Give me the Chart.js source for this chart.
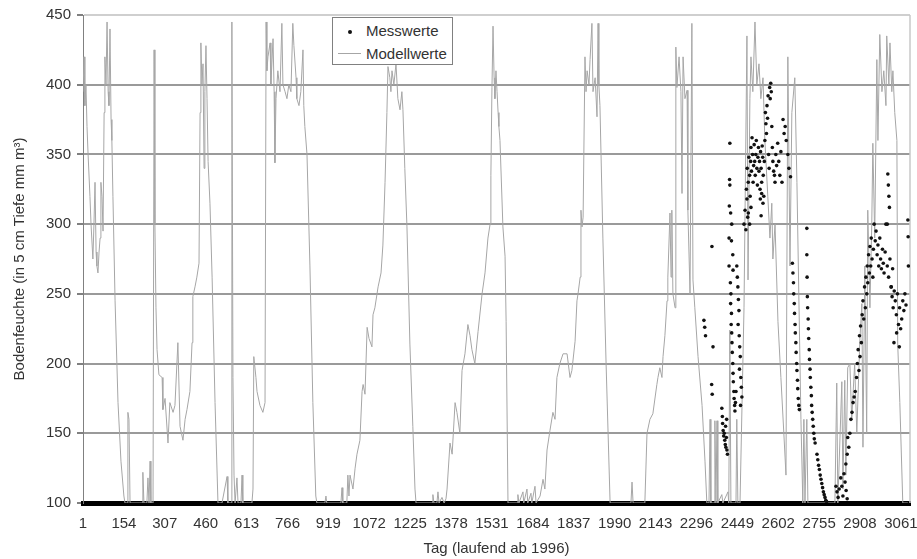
<!DOCTYPE html>
<html>
<head>
<meta charset="utf-8">
<script src="https://cdn.jsdelivr.net/npm/chart.js@4/dist/chart.umd.min.js"></script>
<style>
  html, body { margin: 0; padding: 0; background: #fff; }
  #wrap { position: relative; width: 917px; height: 559px; }
  #legend {
    position: absolute; left: 332px; top: 17px; width: 119px; height: 46px;
    border: 1px solid #808080; background: #fff;
    font: 15px "Liberation Sans", Arial, sans-serif; color: #333;
  }
  #legend .txt { position: absolute; left: 33px; line-height: 18px; white-space: nowrap; }
  #legend .dot { position: absolute; left: 15px; top: 12px; width: 4px; height: 4px; border-radius: 50%; background: #111; }
  #legend .ln { position: absolute; left: 5px; top: 35px; width: 23px; height: 1px; background: #a6a6a6; }
</style>
</head>
<body>
<div id="wrap">
  <canvas id="chart" width="917" height="559"></canvas>
  <div id="legend">
    <span class="dot"></span><span class="txt" style="top:4px">Messwerte</span>
    <span class="ln"></span><span class="txt" style="top:27px">Modellwerte</span>
  </div>
</div>
<script>
// Bodenfeuchte: Mess- und Modellwerte

const xTicks = [1, 154, 307, 460, 613, 766, 919, 1072, 1225, 1378, 1531, 1684, 1837, 1990, 2143, 2296, 2449, 2602, 2755, 2908, 3061];
const yTicks = [100, 150, 200, 250, 300, 350, 400, 450];

// [Tag, Wert]
const modellwerte = [
  [1,395],[5,420],[8,385],[12,400],[16,370],[20,350],[27,320],[31,300],[38,275],[42,300],[46,330],[50,280],[53,270],[57,265],[61,280],[65,290],[68,330],[72,320],[76,295],[80,380],[83,420],[87,400],[91,445],[95,395],[98,385],[102,440],[106,375],[109,360],[113,320],[121,245],[132,172],[143,130],[154,105],[158,100],[166,100],[169,165],[173,160],[177,100],[214,100],[222,100],[225,122],[229,100],[240,100],[244,118],[248,100],[252,130],[255,100],[263,100],
  [267,425],[270,300],[274,240],[278,210],[285,192],[297,190],[300,167],[308,175],[319,143],[326,172],[338,165],[345,170],[356,215],[364,155],[375,145],[383,160],[390,167],[401,180],[409,215],[412,248],[420,255],[427,262],[435,272],[439,380],[442,430],[446,400],[450,415],[454,340],[457,395],[461,428],[465,390],[469,345],[476,315],[484,262],[495,172],[506,100],[521,100],[540,119],[543,100],[555,100],
  [558,445],[562,190],[566,120],[570,100],[577,118],[581,100],[592,100],[596,120],[599,100],[633,100],[637,110],[640,205],[648,190],[652,180],[663,170],[674,165],[682,172],[686,445],[689,410],[693,420],[701,430],[704,400],[712,433],[716,395],[719,344],[723,390],[730,410],[738,395],[745,444],[749,400],[757,395],[764,390],[771,400],[779,395],[786,444],[790,428],[798,405],[801,390],[809,385],[816,395],[824,425],[827,385],[831,370],[839,350],[850,270],[861,172],[872,105],[876,100],
  [906,100],[910,105],[913,100],[966,100],[970,111],[973,100],[988,100],[992,120],[996,105],[1000,120],[1011,110],[1019,125],[1026,135],[1037,145],[1045,180],[1049,185],[1056,178],[1064,226],[1071,218],[1082,212],[1086,235],[1093,240],[1105,255],[1116,265],[1123,285],[1131,330],[1138,380],[1142,413],[1149,405],[1153,395],[1157,410],[1164,400],[1172,415],[1179,390],[1187,382],[1194,395],[1198,382],[1205,340],[1213,298],[1224,214],[1235,155],[1243,110],[1247,100],
  [1307,100],[1310,106],[1314,100],[1325,100],[1329,108],[1333,100],[1344,104],[1352,100],[1359,103],[1363,110],[1374,143],[1382,135],[1393,172],[1400,165],[1411,150],[1419,195],[1430,207],[1441,228],[1449,220],[1456,210],[1467,200],[1479,223],[1494,250],[1505,265],[1516,290],[1524,300],[1527,335],[1531,398],[1535,442],[1539,405],[1542,390],[1546,410],[1550,395],[1554,380],[1557,370],[1561,360],[1572,298],[1580,277],[1584,230],[1591,100],
  [1625,100],[1628,106],[1632,100],[1647,108],[1650,100],[1662,110],[1665,100],[1677,107],[1680,100],[1692,112],[1696,100],[1711,105],[1722,117],[1729,110],[1737,138],[1748,152],[1759,165],[1767,160],[1774,190],[1785,200],[1797,207],[1812,207],[1823,190],[1830,195],[1842,216],[1849,245],[1853,250],[1861,262],[1864,310],[1868,298],[1872,305],[1879,420],[1883,395],[1887,410],[1894,400],[1898,418],[1905,444],[1909,395],[1917,405],[1924,377],[1928,444],[1931,400],[1935,385],[1946,290],[1958,200],[1973,100],
  [2051,100],[2055,115],[2059,100],[2103,100],[2111,150],[2122,160],[2133,164],[2148,185],[2152,190],[2159,197],[2167,190],[2171,205],[2178,220],[2186,245],[2189,262],[2197,308],[2201,262],[2204,310],[2208,250],[2216,240],[2219,427],[2223,398],[2231,420],[2238,395],[2242,322],[2246,420],[2253,390],[2261,396],[2264,310],[2272,250],[2279,444],[2283,260],[2290,240],[2302,205],[2317,170],[2328,130],[2335,100],
  [2343,100],[2347,160],[2350,100],[2362,100],[2365,159],[2369,100],[2373,159],[2376,100],[2391,106],[2395,100],[2414,108],[2417,100],[2421,224],[2425,100],[2444,100],[2447,160],[2451,100],[2459,100],[2474,240],[2485,435],[2489,260],[2496,390],[2500,420],[2507,395],[2515,445],[2522,400],[2530,415],[2537,390],[2545,405],[2552,360],[2563,320],[2571,290],[2578,315],[2582,275],[2590,300],[2601,230],[2612,190],[2623,150],[2631,120],[2638,420],[2646,270],[2653,380],[2664,405],[2672,330],[2679,250],[2687,160],[2694,100],[2698,160],[2702,100],[2709,160],[2713,100],
  [2814,100],[2821,186],[2825,100],[2840,187],[2844,110],[2851,188],[2855,120],[2862,197],[2870,200],[2877,160],[2888,200],[2896,150],[2907,215],[2915,243],[2919,140],[2926,270],[2933,150],[2937,310],[2945,240],[2952,300],[2956,358],[2963,290],[2971,418],[2975,360],[2982,436],[2990,395],[2997,410],[3005,385],[3008,435],[3016,400],[3020,430],[3027,395],[3031,410],[3038,380],[3046,360],[3049,214],[3057,172],[3068,100],[3087,100]
];

// [Tag, Wert]
const messwerte = [
  [2324,231],[2327,226],[2330,220],[2353,185],[2354,284],[2355,178],[2358,212],
  [2391,168],[2393,162],[2394,157],[2396,152],[2398,148],[2400,150],[2402,145],[2404,142],[2405,155],[2406,140],[2408,147],[2409,160],[2410,138],[2412,135],
  [2418,290],[2418,270],[2419,313],[2420,332],[2421,328],[2421,358],[2423,258],[2424,243],[2424,308],[2425,250],[2426,228],[2427,236],[2427,288],[2428,222],[2428,300],[2429,215],[2430,208],[2432,200],[2432,278],[2433,193],[2433,267],[2434,187],[2436,180],[2437,175],[2439,170],[2440,166],[2442,172],[2444,180],
  [2447,270],[2449,262],[2451,255],[2452,228],[2453,246],[2455,238],[2456,220],[2457,196],[2458,212],[2460,205],[2461,170],[2462,190],[2464,183],[2466,176],
  [2474,300],[2478,310],[2481,296],[2483,325],[2485,318],[2486,340],[2488,305],[2490,330],[2490,308],[2492,348],[2495,335],[2495,300],[2497,320],[2499,345],[2500,355],[2500,312],[2502,338],[2504,362],[2506,350],[2508,330],[2510,342],[2512,357],[2514,345],[2516,335],[2518,350],[2520,360],[2522,340],[2524,328],[2526,348],[2528,355],[2530,338],[2532,345],[2534,325],[2535,318],[2536,352],[2538,340],[2538,306],[2540,330],[2540,322],[2542,356],[2544,348],[2545,315],[2546,335],[2548,320],[2550,345],
  [2552,360],[2554,380],[2556,372],[2558,365],[2560,385],[2562,376],[2564,392],[2566,350],[2568,340],[2570,398],[2572,390],[2574,401],[2576,395],[2578,370],[2580,355],[2582,345],[2585,338],[2588,335],[2590,330],[2593,350],[2596,342],[2600,358],[2604,345],[2608,335],[2612,352],[2616,330],[2620,375],[2624,365],[2628,370],[2632,360],[2638,350],[2642,340],[2648,334],
  [2655,272],[2657,265],[2659,258],[2660,250],[2662,243],[2663,236],[2665,228],[2666,222],[2668,215],[2669,208],[2671,200],[2672,195],[2674,188],[2675,182],[2677,175],[2679,170],[2681,167],
  [2709,297],[2709,278],[2710,262],[2711,248],[2712,240],[2714,232],[2715,225],[2716,218],[2718,210],[2719,203],[2721,196],[2722,190],[2724,183],[2726,177],[2727,170],[2729,165],[2731,160],[2733,155],[2735,150],[2737,146],[2740,143],
  [2747,135],[2750,131],[2753,127],[2756,124],[2759,120],[2762,117],[2765,114],[2768,111],[2771,108],[2774,106],[2777,104],[2780,102],[2783,101],
  [2818,112],[2822,108],[2826,104],[2830,110],[2836,118],[2840,112],[2844,105],[2848,121],[2852,115],[2856,109],[2860,103],[2855,128],[2860,135],[2862,147],[2866,140],[2870,150],[2874,160],[2878,165],[2882,172],[2886,176],
  [2890,180],[2895,190],[2898,200],[2901,210],[2904,195],[2906,220],[2908,205],[2910,227],[2913,215],[2916,235],[2919,245],[2922,232],[2925,255],[2928,240],[2930,262],[2933,250],[2935,270],[2937,258],[2940,278],[2943,265],[2945,284],[2948,270],[2950,290],[2953,275],[2956,262],[2958,282],
  [2961,300],[2965,288],[2968,295],[2972,278],[2975,285],[2978,270],[2982,290],[2985,275],[2988,268],[2992,282],[2995,272],[2998,265],[3002,280],[3005,300],[3010,270],[3015,262],[3020,275],[3025,255],[3030,268],[3010,300],[3012,336],[3014,328],[3016,320],[3018,312],
  [3024,255],[3028,248],[3032,240],[3036,252],[3040,245],[3044,235],[3048,250],[3052,228],[3056,240],[3060,225],[3064,232],[3068,245],[3072,238],[3076,250],[3080,242],[3035,215],[3045,222],[3055,212],[3087,303],[3088,291],[3089,270]
];

const FONT = { family: '"Liberation Sans", Arial, sans-serif', size: 15 };
const TEXT = '#333333';

// right frame line of the plot area
const frameRight = {
  id: 'frameRight',
  beforeDatasetsDraw(chart) {
    const { ctx, chartArea: a } = chart;
    ctx.save();
    ctx.strokeStyle = '#c8c8c8';
    ctx.lineWidth = 1.5;
    ctx.beginPath();
    ctx.moveTo(a.right, a.top);
    ctx.lineTo(a.right, a.bottom);
    ctx.stroke();
    ctx.restore();
  }
};

new Chart(document.getElementById('chart'), {
  type: 'line',
  data: {
    datasets: [
      {
        label: 'Messwerte',
        data: messwerte.map(p => ({ x: p[0], y: p[1] })),
        showLine: false,
        pointRadius: 1.8,
        pointBackgroundColor: '#111',
        pointBorderWidth: 0
      },
      {
        label: 'Modellwerte',
        data: modellwerte.map(p => ({ x: p[0], y: p[1] })),
        borderColor: '#a6a6a6',
        borderWidth: 1,
        pointRadius: 0,
        tension: 0
      }
    ]
  },
  options: {
    responsive: false,
    animation: false,
    devicePixelRatio: 1,
    layout: { padding: { top: 15, right: 7, left: 0, bottom: 0 } },
    plugins: {
      legend: { display: false },
      tooltip: { enabled: false }
    },
    scales: {
      x: {
        type: 'linear',
        min: 1,
        max: 3095,
        z: 1,
        afterBuildTicks: (scale) => { scale.ticks = xTicks.map(v => ({ value: v })); },
        afterFit: (scale) => { scale.height = 56; scale.paddingLeft = 0; scale.paddingRight = 0; },
        grid: { display: false, drawTicks: false },
        border: { display: true, color: '#000', width: 5 },
        ticks: {
          autoSkip: false, maxRotation: 0, padding: 12,
          color: TEXT, font: FONT,
          callback: (v) => String(v)
        },
        title: {
          display: true, text: 'Tag (laufend ab 1996)',
          color: TEXT, font: FONT, padding: { top: 0, bottom: 1 }
        }
      },
      y: {
        min: 100,
        max: 450,
        afterBuildTicks: (scale) => { scale.ticks = yTicks.map(v => ({ value: v })); },
        afterFit: (scale) => { scale.width = 83; scale.paddingTop = 0; scale.paddingBottom = 0; },
        grid: {
          color: (c) => c.tick && c.tick.value === 450 ? '#cfcfcf' : (c.tick && c.tick.value === 100 ? '#000' : '#9a9a9a'),
          lineWidth: 2,
          tickLength: 6,
          tickColor: '#808080'
        },
        border: { display: true, color: '#808080', width: 1 },
        ticks: {
          padding: 6,
          color: TEXT, font: FONT,
          callback: (v) => String(v)
        },
        title: {
          display: true, text: 'Bodenfeuchte (in 5 cm Tiefe mm m³)',
          color: TEXT, font: FONT, padding: { top: 11, bottom: 0 }
        }
      }
    }
  },
  plugins: [frameRight]
});
</script>
</body>
</html>
